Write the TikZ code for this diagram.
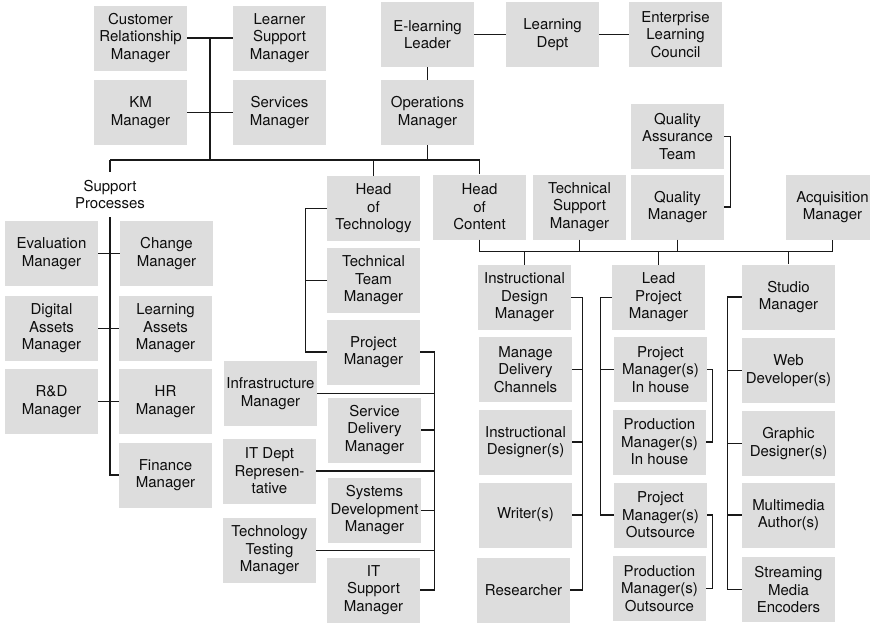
\documentclass[tikz,border=0pt]{standalone}
\usepackage{fontspec}
\setmainfont{TeX Gyre Heros}
\usetikzlibrary{calc}
\begin{document}
\begin{tikzpicture}[x=1pt,y=-1pt,
  box/.style={fill=boxgray, draw=none, inner sep=0pt, minimum width=93pt,
    minimum height=65pt, align=center, text=black!95,
    font=\fontsize{15}{17.5}\selectfont},
  label/.style={inner sep=0pt, minimum height=45pt, align=center, text=black!95,
    font=\fontsize{15}{17.5}\selectfont},
  link/.style={draw=black!90, line width=1.2pt}]
\definecolor{boxgray}{RGB}{221,221,221}
\useasboundingbox (0,0) rectangle (870,622);

% --- customer side ---
\node[box] (crm) at (140.5,38) {Customer\\Relationship\\Manager};
\node[box] (lsm) at (279.5,38) {Learner\\Support\\Manager};
\node[box] (km) at (140.5,112.5) {KM\\Manager};
\node[box] (svc) at (279.5,112.5) {Services\\Manager};

% --- leadership ---
\node[box] (ell) at (427.5,34.5) {E-learning\\Leader};
\node[box] (ld) at (552.5,34.5) {Learning\\Dept};
\node[box] (elc) at (675.5,34.5) {Enterprise\\Learning\\Council};
\node[box] (ops) at (427.5,112.5) {Operations\\Manager};

% --- support processes ---
\node[label] (sp) at (110,194.5) {Support\\Processes};
\node[box] (eval) at (51.5,253.5) {Evaluation\\Manager};
\node[box] (change) at (166.5,253.5) {Change\\Manager};
\node[box] (digital) at (51.5,328.5) {Digital\\Assets\\Manager};
\node[box] (lam) at (165.5,328.5) {Learning\\Assets\\Manager};
\node[box] (rd) at (51.5,401.5) {R\&D\\Manager};
\node[box] (hr) at (165.5,401.5) {HR\\Manager};
\node[box] (fin) at (165.5,475) {Finance\\Manager};

% --- technology ---
\node[box] (hot) at (373.5,208.5) {Head\\of\\Technology};
\node[box] (ttm) at (373.5,280.5) {Technical\\Team\\Manager};
\node[box] (pm) at (373.5,352) {Project\\Manager};
\node[box] (infra) at (270.5,393.5) {Infrastructure\\Manager};
\node[box] (sdm) at (374.5,430) {Service\\Delivery\\Manager};
\node[box] (itdr) at (269.5,471) {IT Dept\\Represen-\\tative};
\node[box] (sysdev) at (374.5,510.5) {Systems\\Development\\Manager};
\node[box] (ttest) at (269.5,550.5) {Technology\\Testing\\Manager};
\node[box] (itsm) at (373.5,590) {IT\\Support\\Manager};

% --- content ---
\node[box] (hoc) at (479.5,207) {Head\\of\\Content};
\node[box] (tsm) at (579.5,207) {Technical\\Support\\Manager};
\node[box] (qat) at (677.5,136.5) {Quality\\Assurance\\Team};
\node[box] (qm) at (677.5,207) {Quality\\Manager};
\node[box] (acq) at (832.5,207) {Acquisition\\Manager};

\node[box] (idm) at (524.5,297.5) {Instructional\\Design\\Manager};
\node[box] (mdc) at (525.5,369.5) {Manage\\Delivery\\Channels};
\node[box] (insd) at (525.5,442) {Instructional\\Designer(s)};
\node[box] (writer) at (525.5,515) {Writer(s)};
\node[box] (res) at (523.5,590) {Researcher};

\node[box] (lpm) at (658.5,297.5) {Lead\\Project\\Manager};
\node[box] (pmih) at (660.5,369.5) {Project\\Manager(s)\\In house};
\node[box] (prodih) at (659.5,442) {Production\\Manager(s)\\In house};
\node[box] (pmos) at (660.5,515) {Project\\Manager(s)\\Outsource};
\node[box] (prodos) at (659.5,588.5) {Production\\Manager(s)\\Outsource};

\node[box] (studio) at (788.5,297) {Studio\\Manager};
\node[box] (web) at (788.5,370.5) {Web\\Developer(s)};
\node[box] (graphic) at (788.5,443.5) {Graphic\\Designer(s)};
\node[box] (mma) at (788.5,515) {Multimedia\\Author(s)};
\node[box] (sme) at (788.5,589.5) {Streaming\\Media\\Encoders};

% --- junction points ---
\coordinate (busL) at (110,160);
\coordinate (cspine) at ($(crm.east)!0.5!(lsm.west)$);
\coordinate (cb) at ([yshift=-12pt]hoc.south);
\coordinate (tspine) at ([xshift=14pt]pm.east);
\coordinate (lspine) at ([xshift=11pt]idm.east);
\coordinate (mspine) at ([xshift=-11pt]lpm.west);
\coordinate (rspine) at ([xshift=-14pt]studio.west);

% --- upper links ---
\draw[link] (crm.east) -- (lsm.west);
\draw[link] (km.east) -- (svc.west);
\draw[link] (cspine) -- (cspine |- busL);
\draw[link] (ell.east) -- (ld.west);
\draw[link] (ld.east) -- (elc.west);
\draw[link] (ell.south) -- (ops.north);
\draw[link] (ops.south) -- (ops.south |- busL);
\draw[link] (busL) -| (hoc.north);
\draw[link] (hot.north |- busL) -- (hot.north);

% --- support processes links ---
\draw[link] (busL) -- (sp.north);
\draw[link] (sp.south) |- (fin.west);
\draw[link] (eval.east) -- (change.west);
\draw[link] (digital.east) -- (lam.west);
\draw[link] (rd.east) -- (hr.west);

% --- technology links ---
\draw[link] (hot.west) -| ([xshift=-21pt]pm.west) -- (pm.west);
\draw[link] (ttm.west) -- ++(-21,0);
\draw[link] (pm.east) -- (tspine) |- (itsm.east);
\foreach \n in {infra,sdm,itdr,sysdev,ttest}
  \draw[link] (\n.east) -- (\n.east -| tspine);

% --- content links ---
\draw[link] (hoc.south) -- (cb) -| (acq.south);
\draw[link] (tsm.south) -- (tsm.south |- cb);
\draw[link] (qm.south) -- (qm.south |- cb);
\draw[link] (qat.east) -| ([xshift=6pt]qm.east) -- (qm.east);
\foreach \n in {idm,lpm,studio}
  \draw[link] (\n.north |- cb) -- (\n.north);

\draw[link] (idm.east) -- (lspine) |- (res.east);
\foreach \n in {mdc,insd,writer}
  \draw[link] (\n.east) -- (\n.east -| lspine);

\draw[link] (lpm.west) -- (mspine) |- (pmos.west);
\draw[link] (pmih.west) -- (pmih.west -| mspine);
\draw[link] (pmih.east) -- ++(5,0) |- (prodih.east);
\draw[link] (pmos.east) -- ++(5,0) |- (prodos.east);

\draw[link] (studio.west) -- (rspine) |- (sme.west);
\foreach \n in {web,graphic,mma}
  \draw[link] (\n.west) -- (\n.west -| rspine);
\end{tikzpicture}
\end{document}
